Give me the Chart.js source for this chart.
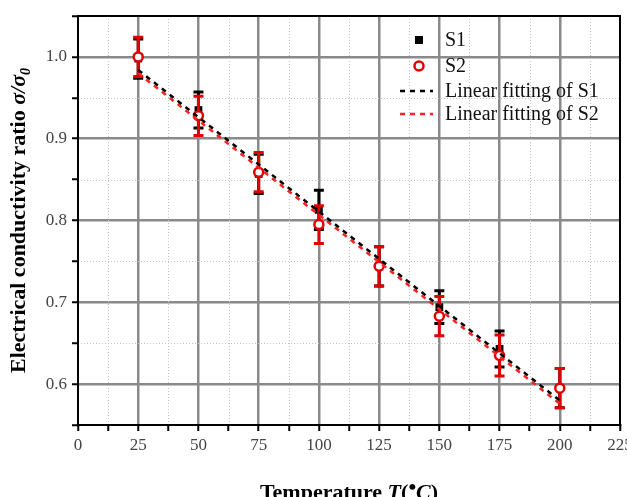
<!DOCTYPE html>
<html>
<head>
<meta charset="utf-8">
<script src="https://cdn.jsdelivr.net/npm/chart.js@4.4.0/dist/chart.umd.min.js"></script>
<style>
  html, body { margin: 0; padding: 0; background: #fff; }
  #wrap { width: 627px; height: 497px; }
</style>
</head>
<body>
<div id="wrap"><canvas id="chart" width="627" height="497"></canvas></div>
<script>
const temps = [25, 50, 75, 100, 125, 150, 175, 200];
const s1 = [0.998, 0.935, 0.857, 0.813, 0.744, 0.694, 0.643, 0.595];
const s1Err = [0.024, 0.022, 0.024, 0.024, 0.024, 0.02, 0.022, 0.024];
const s2 = [1.0, 0.928, 0.859, 0.795, 0.744, 0.683, 0.635, 0.595];
const s2Err = [0.024, 0.024, 0.024, 0.023, 0.024, 0.024, 0.025, 0.024];
const fitX = [25, 200];
const fitS1 = [0.984, 0.580];
const fitS2 = [0.980, 0.576];
const yLabels = [0.6, 0.7, 0.8, 0.9, 1.0];

const serif = '"Liberation Serif", "Times New Roman", serif';
const pts = (xs, ys) => xs.map((x, i) => ({ x, y: ys[i] }));
const isMajor = (v, step) => Math.abs(v / step - Math.round(v / step)) < 1e-6;

// error bars drawn just before each scatter dataset
const errorBars = {
  id: 'errorBars',
  beforeDatasetDraw(chart, args) {
    const ds = chart.data.datasets[args.index];
    if (!ds.errors) return;
    const { ctx, scales: { x, y } } = chart;
    ctx.save();
    ctx.strokeStyle = ds.errColor;
    ctx.lineWidth = 3;
    ds.data.forEach((p, i) => {
      const px = x.getPixelForValue(p.x);
      const top = y.getPixelForValue(p.y + ds.errors[i]);
      const bot = y.getPixelForValue(p.y - ds.errors[i]);
      ctx.beginPath();
      ctx.moveTo(px, top); ctx.lineTo(px, bot);
      ctx.moveTo(px - 5, top); ctx.lineTo(px + 5, top);
      ctx.moveTo(px - 5, bot); ctx.lineTo(px + 5, bot);
      ctx.stroke();
    });
    ctx.restore();
  }
};

// dotted minor grid, frame, legend, axis titles
const decor = {
  id: 'decor',
  beforeDatasetsDraw(chart) {
    const { ctx, chartArea: a, scales: { x, y } } = chart;
    ctx.save();
    ctx.strokeStyle = '#c4c4c4';
    ctx.lineWidth = 1;
    ctx.setLineDash([1, 2]);
    for (let v = 12.5; v < 225; v += 25) {
      const px = Math.round(x.getPixelForValue(v)) + 0.5;
      ctx.beginPath(); ctx.moveTo(px, a.top); ctx.lineTo(px, a.bottom); ctx.stroke();
    }
    for (let v = 0.65; v < 1.05; v += 0.1) {
      const py = Math.round(y.getPixelForValue(v)) + 0.5;
      ctx.beginPath(); ctx.moveTo(a.left, py); ctx.lineTo(a.right, py); ctx.stroke();
    }
    ctx.restore();
  },
  afterDraw(chart) {
    const { ctx, chartArea: a } = chart;
    const ds = chart.data.datasets;
    ctx.save();
    ctx.strokeStyle = '#000';
    ctx.lineWidth = 2;
    ctx.strokeRect(a.left, a.top, a.right - a.left, a.bottom - a.top);

    // legend
    const lx = 419, tx = 445;
    const rows = [40, 66, 91, 114];
    ctx.textBaseline = 'middle';
    ctx.fillStyle = '#000';
    ctx.fillRect(lx - 4, rows[0] - 4, 8, 8);
    ctx.beginPath();
    ctx.arc(lx, rows[1], 4.5, 0, Math.PI * 2);
    ctx.fillStyle = '#fff'; ctx.fill();
    ctx.strokeStyle = '#e00000'; ctx.lineWidth = 2.5; ctx.stroke();
    [2, 3].forEach(r => {
      ctx.strokeStyle = ds[r].borderColor;
      ctx.lineWidth = 2.5;
      ctx.setLineDash([5, 5]);
      ctx.beginPath(); ctx.moveTo(lx - 19, rows[r]); ctx.lineTo(lx + 14, rows[r]); ctx.stroke();
    });
    ctx.setLineDash([]);
    ctx.font = '20px ' + serif;
    ctx.fillStyle = '#111';
    ds.forEach((d, i) => ctx.fillText(d.label, tx, rows[i] + 1));

    // axis titles with mixed styles
    const drawRuns = (runs, cx, cy) => {
      let w = 0;
      runs.forEach(r => { ctx.font = r.f; w += ctx.measureText(r.t).width; });
      let pos = cx - w / 2;
      runs.forEach(r => {
        ctx.font = r.f;
        ctx.fillText(r.t, pos, cy + (r.dy || 0));
        pos += ctx.measureText(r.t).width;
      });
    };
    const B = 'bold 22px ' + serif, BI = 'italic bold 22px ' + serif, SI = 'italic bold 14px ' + serif;
    ctx.fillStyle = '#000';
    ctx.textBaseline = 'alphabetic';
    drawRuns([
      { t: 'Temperature ', f: B }, { t: 'T', f: BI }, { t: '(', f: B },
      { t: '\u2022', f: B, dy: -5 }, { t: 'C', f: BI }, { t: ')', f: B }
    ], (a.left + a.right) / 2, 499);
    ctx.translate(25, (a.top + a.bottom) / 2);
    ctx.rotate(-Math.PI / 2);
    drawRuns([
      { t: 'Electrical conductivity ratio ', f: B }, { t: '\u03c3/\u03c3', f: BI }, { t: '0', f: SI, dy: 5 }
    ], 0, 0);
    ctx.restore();
  }
};

new Chart(document.getElementById('chart'), {
  type: 'scatter',
  data: {
    datasets: [
      {
        label: 'S1',
        data: pts(temps, s1),
        errors: s1Err,
        errColor: '#000',
        pointStyle: 'rect',
        pointRadius: 5.5,
        backgroundColor: '#000',
        borderColor: '#000',
        borderWidth: 0,
        order: 4
      },
      {
        label: 'S2',
        data: pts(temps, s2),
        errors: s2Err,
        errColor: '#e00000',
        pointStyle: 'circle',
        pointRadius: 4.5,
        backgroundColor: '#fff',
        borderColor: '#e00000',
        borderWidth: 2.5,
        order: 3
      },
      {
        label: 'Linear fitting of S1',
        type: 'line',
        data: pts(fitX, fitS1),
        borderColor: '#000',
        borderWidth: 2.5,
        borderDash: [5, 5],
        pointRadius: 0,
        fill: false,
        order: 1
      },
      {
        label: 'Linear fitting of S2',
        type: 'line',
        data: pts(fitX, fitS2),
        borderColor: '#ff2020',
        borderWidth: 2.5,
        borderDash: [5, 5],
        pointRadius: 0,
        fill: false,
        order: 2
      }
    ]
  },
  options: {
    responsive: false,
    animation: false,
    layout: { padding: { top: 16, right: 2, left: 0, bottom: 0 } },
    plugins: { legend: { display: false }, tooltip: { enabled: false } },
    scales: {
      x: {
        type: 'linear',
        min: 0,
        max: 225,
        afterBuildTicks(scale) {
          const t = [];
          for (let v = 0; v <= 225; v += 12.5) t.push({ value: v });
          scale.ticks = t;
        },
        afterFit(scale) { scale.height = 72; scale.paddingLeft = 0; scale.paddingRight = 0; },
        ticks: {
          autoSkip: false,
          maxRotation: 0,
          padding: 4,
          color: '#444',
          font: { family: serif, size: 17 },
          callback: v => isMajor(v, 25) ? String(v) : ''
        },
        grid: {
          color: c => isMajor(c.tick.value, 25) && c.tick.value > 0 && c.tick.value < 225 ? '#8a8a8a' : 'rgba(0,0,0,0)',
          lineWidth: 2.5,
          tickLength: 6,
          tickColor: '#000',
          tickWidth: 2
        },
        border: { color: '#000', width: 2 }
      },
      y: {
        min: 0.55,
        max: 1.05,
        afterBuildTicks(scale) {
          const t = [];
          for (let i = 0; i <= 10; i++) t.push({ value: +(0.55 + i * 0.05).toFixed(2) });
          scale.ticks = t;
        },
        afterFit(scale) { scale.width = 78; scale.paddingTop = 0; scale.paddingBottom = 0; },
        ticks: {
          autoSkip: false,
          padding: 5,
          color: '#444',
          font: { family: serif, size: 17 },
          callback: v => yLabels.some(l => Math.abs(l - v) < 1e-6) ? v.toFixed(1) : ''
        },
        grid: {
          color: c => yLabels.some(l => Math.abs(l - c.tick.value) < 1e-6) ? '#8a8a8a' : 'rgba(0,0,0,0)',
          lineWidth: 2.5,
          tickLength: 6,
          tickColor: '#000',
          tickWidth: 2
        },
        border: { color: '#000', width: 2 }
      }
    }
  },
  plugins: [errorBars, decor]
});
</script>
</body>
</html>
